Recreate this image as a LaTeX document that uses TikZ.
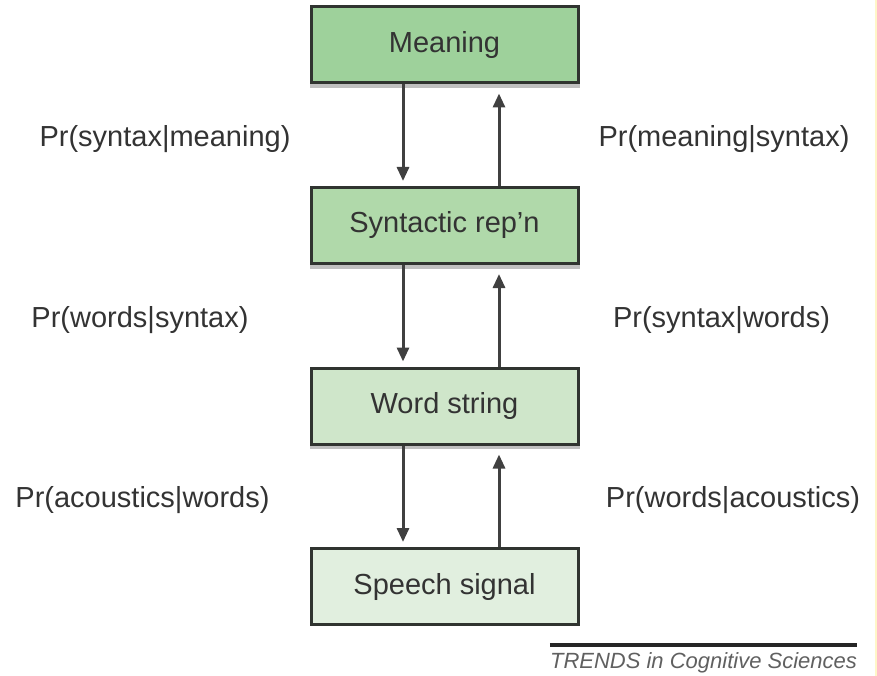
\documentclass[tikz,border=0pt]{standalone}
\usepackage{fontspec}
\setmainfont{Liberation Sans}
\usepackage{tikz}
\usetikzlibrary{positioning,arrows.meta}

\definecolor{meaningfill}{RGB}{158,209,155}
\definecolor{syntaxfill}{RGB}{176,217,170}
\definecolor{wordsfill}{RGB}{207,230,202}
\definecolor{speechfill}{RGB}{225,239,223}
\definecolor{boxedge}{RGB}{48,52,48}
\definecolor{linegray}{RGB}{64,64,64}
\definecolor{textgray}{RGB}{51,51,51}
\definecolor{shadowgray}{RGB}{192,192,192}
\definecolor{edgeyellow}{RGB}{255,246,200}

\begin{document}
\begin{tikzpicture}[
		x=1pt, y=-1pt,
		node distance = 180.5pt,
		level/.style={
			rectangle,
			draw=boxedge,
			line width=3pt,
			minimum width=267pt,
			minimum height=76pt,
			inner sep=0pt,
			text=textgray,
			font=\fontsize{29}{34}\selectfont
			},
		prob/.style={
			inner sep=0pt,
			text=textgray,
			font=\fontsize{29}{34}\selectfont
			},
		line/.style={
			draw=linegray,
			line width=3pt,
			-{Triangle[length=14pt,width=12pt]}
			}]
	    \useasboundingbox (0,0) rectangle (877,676);
	    \draw[edgeyellow, line width=1.5pt] (876,0) -- (876,676);

	    % Shadows under the upper boxes
	    \foreach \y in {45,225.5,406} 
	    	\fill [shadowgray] (309.5,\y+37) rectangle (579.5,\y+43);

	    % Place nodes
	    \node [level, fill=meaningfill] (meaning) at (444.5,45) {Meaning};
	    \node [level, fill=syntaxfill, below of=meaning] (syntax) {Syntactic rep'n};
	    \node [level, fill=wordsfill, below of=syntax] (words) {Word string};
	    \node [level, fill=speechfill, below of=words] (speech) {Speech signal};

	    % Probabilities
	    \node [prob] (sm) at (165,139) {Pr(syntax|meaning)};
	    \node [prob] (ms) at (724,139) {Pr(meaning|syntax)};
	    \node [prob] (ws) at (140,320) {Pr(words|syntax)};
	    \node [prob] (sw) at (721.5,320) {Pr(syntax|words)};
	    \node [prob] (aw) at (142.5,500) {Pr(acoustics|words)};
	    \node [prob] (wa) at (733,500) {Pr(words|acoustics)};

	    % Draw edges
	    \foreach \a/\b in {meaning/syntax, syntax/words, words/speech} {
	    	\path [line, shorten >=5pt] ([xshift=-41.5pt]\a.south) -- ([xshift=-41.5pt]\b.north);
	    	\path [line, shorten >=9pt] ([xshift=54.5pt]\b.north) -- ([xshift=54.5pt]\a.south);
	    }

	    % Journal footer
	    \node [text=gray!75!black, inner sep=0pt, font=\fontsize{22}{26}\selectfont\itshape] (trends) at (703.5,663) {TRENDS in Cognitive Sciences};
	    \draw [line width=4pt, black!85] ([yshift=8pt]trends.north west) -- ([yshift=8pt]trends.north east);
	\end{tikzpicture}
\end{document}
